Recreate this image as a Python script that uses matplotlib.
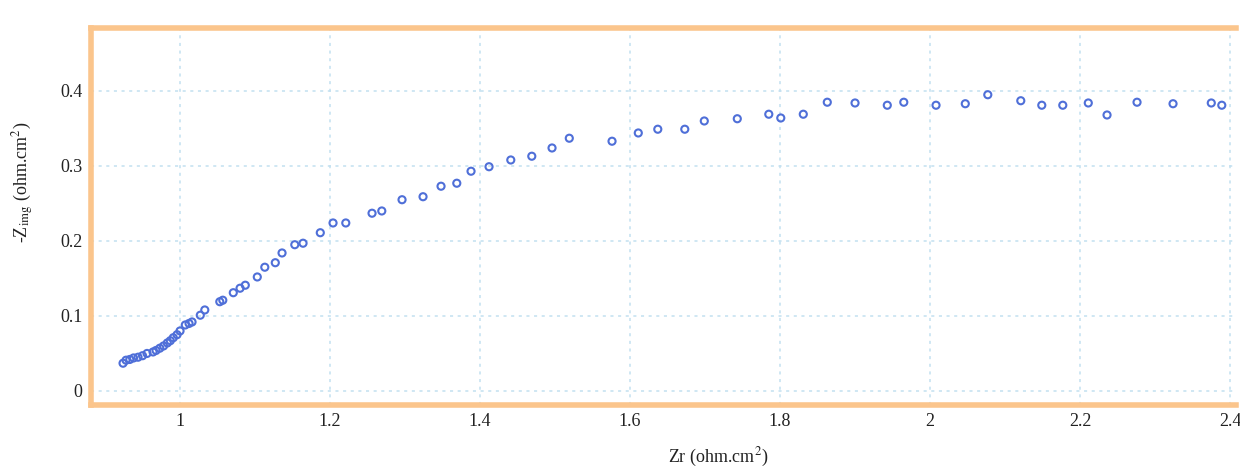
import matplotlib
matplotlib.use("Agg")
import matplotlib.pyplot as plt

plt.rcParams['font.family'] = ['Liberation Serif', 'DejaVu Serif']
plt.rcParams['mathtext.fontset'] = 'stix'

zr = [0.924, 0.928, 0.933, 0.938, 0.944, 0.950, 0.956, 0.964, 0.968, 0.973, 0.978,
      0.983, 0.987, 0.991, 0.996, 1.000, 1.007, 1.012, 1.016, 1.027, 1.033, 1.053,
      1.057, 1.071, 1.080, 1.087, 1.103, 1.113, 1.127, 1.136, 1.153, 1.164, 1.187,
      1.204, 1.221, 1.256, 1.269, 1.296, 1.324, 1.348, 1.369, 1.388, 1.412, 1.441,
      1.469, 1.496, 1.519, 1.576, 1.611, 1.637, 1.673, 1.699, 1.743, 1.785, 1.801,
      1.831, 1.863, 1.900, 1.943, 1.965, 2.008, 2.047, 2.077, 2.121, 2.149, 2.177,
      2.211, 2.236, 2.276, 2.324, 2.375, 2.389]
zimg = [0.037, 0.041, 0.042, 0.044, 0.045, 0.047, 0.050, 0.052, 0.054, 0.057, 0.060,
        0.064, 0.067, 0.071, 0.075, 0.080, 0.088, 0.090, 0.092, 0.101, 0.108, 0.119,
        0.121, 0.131, 0.137, 0.141, 0.152, 0.165, 0.171, 0.184, 0.195, 0.197, 0.211,
        0.224, 0.224, 0.237, 0.240, 0.255, 0.259, 0.273, 0.277, 0.293, 0.299, 0.308,
        0.313, 0.324, 0.337, 0.333, 0.344, 0.349, 0.349, 0.360, 0.363, 0.369, 0.364,
        0.369, 0.385, 0.384, 0.381, 0.385, 0.381, 0.383, 0.395, 0.387, 0.381, 0.381,
        0.384, 0.368, 0.385, 0.383, 0.384, 0.381]

xticks = [1, 1.2, 1.4, 1.6, 1.8, 2, 2.2, 2.4]
xticklabels = ["1", "1.2", "1.4", "1.6", "1.8", "2", "2.2", "2.4"]
yticks = [0, 0.1, 0.2, 0.3, 0.4]
yticklabels = ["0", "0.1", "0.2", "0.3", "0.4"]

fig = plt.figure(figsize=(12.4, 4.72), dpi=100)
ax = fig.add_axes([0.0734, 0.142, 0.9234, 0.7987])

ax.scatter(zr, zimg, s=26, facecolors='none', edgecolors='#4f6fd8',
           linewidths=1.5, zorder=3)

ax.set_xlim(0.8813, 2.408)
ax.set_ylim(-0.0187, 0.484)
ax.set_xticks(xticks)
ax.set_xticklabels(xticklabels)
ax.set_yticks(yticks)
ax.set_yticklabels(yticklabels)
ax.tick_params(length=0, labelsize=13, colors='#222222', pad=6)

ax.grid(True, color='#c2e0f0', linestyle=(0, (2, 3)), linewidth=1.1)
ax.set_axisbelow(True)

for side in ['left', 'top', 'bottom']:
    ax.spines[side].set_color('#fbc58c')
    ax.spines[side].set_linewidth(4)
ax.spines['right'].set_visible(False)

ax.set_xlabel(r'Zr (ohm.cm$^{2}$)', fontsize=13, color='#222222', labelpad=4)
ax.xaxis.set_label_coords(0.548, -0.108)
ax.set_ylabel(r'-Z$_{\mathrm{img}}$ (ohm.cm$^{2}$)', fontsize=13, color='#222222')
ax.yaxis.set_label_coords(-0.048, 0.59)

fig.savefig('out.png', dpi=100)
